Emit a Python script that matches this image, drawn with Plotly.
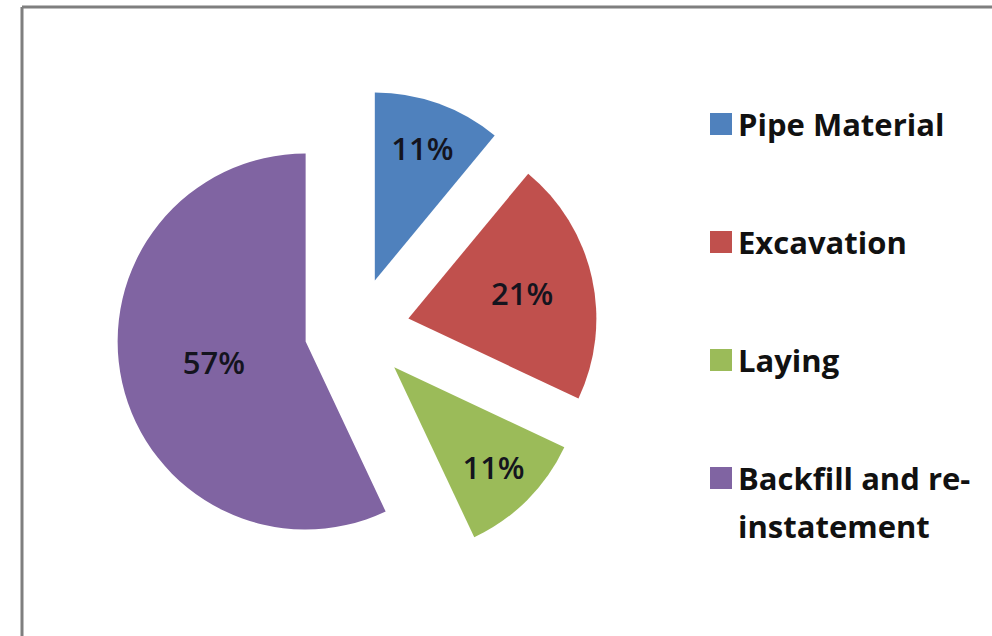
import plotly.graph_objects as go

# Cost breakdown of pipe installation
categories = ["Pipe Material", "Excavation", "Laying", "Backfill and re-instatement"]
shares = [11, 21, 11, 57]
legend_lines = [["Pipe Material"], ["Excavation"], ["Laying"], ["Backfill and re-", "instatement"]]
colors = ["#4F81BD", "#C0504D", "#9BBB59", "#8064A2"]

W, H = 992, 636
PULL = 0.28
# pie centre and radius in pixels
cx, cy, r = 357, 330, 188
half = r * (1 + PULL)

fig = go.Figure()
fig.add_trace(go.Pie(
    labels=categories,
    values=shares,
    sort=False,
    direction="clockwise",
    rotation=0,
    pull=[PULL] * len(shares),
    marker=dict(colors=colors, line=dict(width=0)),
    textinfo="percent",
    textposition="inside",
    insidetextorientation="horizontal",
    insidetextfont=dict(family="Open Sans", size=31, weight=600, color="#14141e"),
    showlegend=False,
    hoverinfo="label+percent",
    domain=dict(x=[(cx - half) / W, (cx + half) / W],
                y=[(H - cy - half) / H, (H - cy + half) / H]),
))

# legend: coloured squares with labels
shapes = []
annotations = []
sq_x0, sq_size = 710, 22
first_y, step, line_gap = 124, 118, 48
for i, (lines, col) in enumerate(zip(legend_lines, colors)):
    yc = first_y + i * step
    shapes.append(dict(type="rect", xref="paper", yref="paper",
                       x0=sq_x0 / W, x1=(sq_x0 + sq_size) / W,
                       y0=1 - (yc + sq_size / 2) / H, y1=1 - (yc - sq_size / 2) / H,
                       fillcolor=col, line=dict(width=0)))
    for k, txt in enumerate(lines):
        annotations.append(dict(xref="paper", yref="paper", x=736 / W,
                                y=1 - (yc + k * line_gap) / H,
                                xanchor="left", yanchor="middle", showarrow=False,
                                text=f"<b>{txt}</b>",
                                font=dict(family="Open Sans", size=31, color="#111111")))

# chart frame (left and top edges)
shapes.append(dict(type="line", xref="paper", yref="paper", x0=22 / W, x1=22 / W,
                   y0=0, y1=1 - 7 / H, line=dict(color="#7f7f7f", width=3)))
shapes.append(dict(type="line", xref="paper", yref="paper", x0=22 / W, x1=1,
                   y0=1 - 7 / H, y1=1 - 7 / H, line=dict(color="#7f7f7f", width=3)))

fig.update_layout(
    width=W, height=H,
    margin=dict(l=0, r=0, t=0, b=0),
    paper_bgcolor="white",
    plot_bgcolor="white",
    shapes=shapes,
    annotations=annotations,
)

fig.write_html("out.html")
